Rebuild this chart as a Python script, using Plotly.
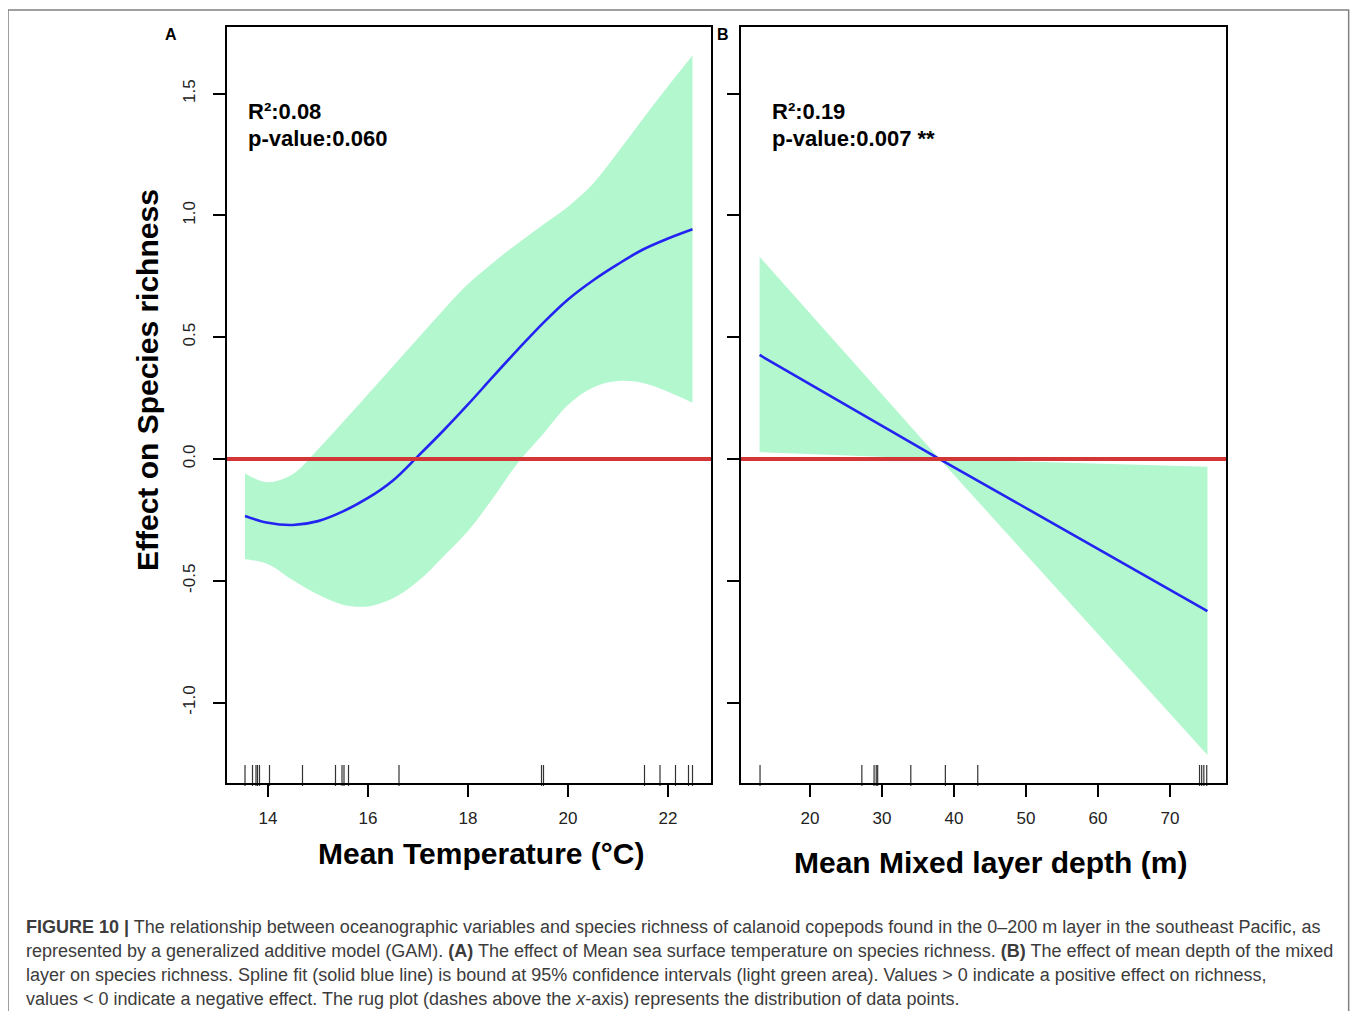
import plotly.graph_objects as go

# ---------------- data ----------------
temp_x = [13.54, 14.0, 14.5, 15.0, 15.5, 16.0, 16.5, 17.0, 17.5, 18.0, 18.5, 19.0,
          19.5, 20.0, 20.5, 21.0, 21.5, 22.0, 22.49]
temp_fit = [-0.234, -0.262, -0.271, -0.255, -0.215, -0.160, -0.088, 0.012, 0.115, 0.224,
            0.338, 0.450, 0.558, 0.655, 0.733, 0.800, 0.860, 0.905, 0.943]
temp_upper = [-0.060, -0.095, -0.062, 0.040, 0.152, 0.266, 0.381, 0.496, 0.610, 0.718,
              0.806, 0.886, 0.962, 1.036, 1.130, 1.260, 1.397, 1.530, 1.656]
temp_lower = [-0.410, -0.432, -0.498, -0.556, -0.598, -0.605, -0.572, -0.502, -0.402, -0.296,
              -0.160, -0.015, 0.102, 0.222, 0.294, 0.320, 0.312, 0.276, 0.231]
temp_rug = [13.54, 13.69, 13.76, 13.79, 13.83, 14.03, 14.69, 15.35, 15.48, 15.52, 15.61,
            16.62, 19.47, 19.51, 21.53, 21.84, 22.15, 22.41, 22.49]

depth_x = [13.0, 38.0, 75.2]
depth_fit = [0.427, 0.0, -0.624]
depth_upper = [0.830, 0.0, -0.032]
depth_lower = [0.028, 0.0, -1.215]
depth_rug = [13.06, 27.2, 28.9, 29.2, 29.4, 34.0, 38.8, 43.3, 74.1, 74.4, 74.7, 75.1]

temp_ticks = [14, 16, 18, 20, 22]
depth_ticks = [20, 30, 40, 50, 60, 70]
y_ticks = [-1.0, -0.5, 0.0, 0.5, 1.0, 1.5]
y_ticklabels = ["-1.0", "-0.5", "0.0", "0.5", "1.0", "1.5"]

stats_a = ["R²:0.08", "p-value:0.060"]
stats_b = ["R²:0.19", "p-value:0.007 **"]

caption_lines = [
    "<b>FIGURE 10 |</b> The relationship between oceanographic variables and species richness of calanoid copepods found in the 0–200 m layer in the southeast Pacific, as",
    "represented by a generalized additive model (GAM). <b>(A)</b> The effect of Mean sea surface temperature on species richness. <b>(B)</b> The effect of mean depth of the mixed",
    "layer on species richness. Spline fit (solid blue line) is bound at 95% confidence intervals (light green area). Values &gt; 0 indicate a positive effect on richness,",
    "values &lt; 0 indicate a negative effect. The rug plot (dashes above the <i>x</i>-axis) represents the distribution of data points.",
]

# ---------------- layout geometry ----------------
# the page body adds an 8 px margin on every side, so the figure is offset by 8 px
OFF = 8
W, H = 1358 - 2 * OFF, 1019 - 2 * OFF
FONT = "Liberation Sans, Arial, Helvetica, sans-serif"
def px(x):
    return (x - OFF) / W
def py(y):
    return 1 - (y - OFF) / H

XA_RANGE = [13.18, 22.86]
XB_RANGE = [10.417, 77.778]
Y_RANGE = [-1.330, 1.7734]
PLOT_TOP, PLOT_BOTTOM = 27, 783
RUG_LEN = 15  # px
units_per_px = (Y_RANGE[1] - Y_RANGE[0]) / (PLOT_BOTTOM - PLOT_TOP)
rug_y = Y_RANGE[0] + RUG_LEN / 2 * units_per_px

FILL = "#B3F7CF"
BLUE = "#2424F2"
RED = "#D33636"

fig = go.Figure()

def add_panel(xs, fit, lo, up, rug, xa, ya, shape):
    fig.add_trace(go.Scatter(x=xs, y=lo, mode="lines", line=dict(width=0, shape=shape, smoothing=1.0),
                             hoverinfo="skip", showlegend=False, xaxis=xa, yaxis=ya))
    fig.add_trace(go.Scatter(x=xs, y=up, mode="lines", line=dict(width=0, shape=shape, smoothing=1.0),
                             fill="tonexty", fillcolor=FILL, hoverinfo="skip", showlegend=False,
                             xaxis=xa, yaxis=ya))
    fig.add_trace(go.Scatter(x=xs, y=fit, mode="lines", line=dict(color=BLUE, width=2.6, shape=shape, smoothing=1.0),
                             showlegend=False, xaxis=xa, yaxis=ya))
    fig.add_trace(go.Scatter(x=rug, y=[rug_y] * len(rug), mode="markers",
                             marker=dict(symbol="line-ns", size=RUG_LEN,
                                         line=dict(color="#333333", width=1.2)),
                             showlegend=False, xaxis=xa, yaxis=ya, cliponaxis=False))

add_panel(temp_x, temp_fit, temp_lower, temp_upper, temp_rug, "x", "y", "spline")
add_panel(depth_x, depth_fit, depth_lower, depth_upper, depth_rug, "x2", "y2", "linear")

# zero reference lines
for xr, yr in [("x domain", "y"), ("x2 domain", "y2")]:
    fig.add_shape(type="line", xref=xr, yref=yr, x0=0, x1=1, y0=0, y1=0,
                  line=dict(color=RED, width=4), layer="above")

axis_common = dict(showline=True, mirror=True, linecolor="black", linewidth=1.5,
                   ticks="outside", ticklen=12, tickwidth=1.5, tickcolor="black",
                   showgrid=False, zeroline=False,
                   tickfont=dict(family=FONT, size=17, color="#222222"))

fig.update_layout(
    width=W, height=H, autosize=False,
    margin=dict(l=0, r=0, t=0, b=0),
    paper_bgcolor="white", plot_bgcolor="white",
    xaxis=dict(domain=[px(227), px(711)], range=XA_RANGE, tickvals=temp_ticks,
               anchor="y", ticklabelstandoff=7, **axis_common),
    yaxis=dict(domain=[py(PLOT_BOTTOM), py(PLOT_TOP)], range=Y_RANGE, tickvals=y_ticks,
               ticktext=y_ticklabels, tickangle=-90, anchor="x", ticklabelstandoff=11,
               **axis_common),
    xaxis2=dict(domain=[px(741), px(1226)], range=XB_RANGE, tickvals=depth_ticks,
                anchor="y2", ticklabelstandoff=7, **axis_common),
    yaxis2=dict(domain=[py(PLOT_BOTTOM), py(PLOT_TOP)], range=Y_RANGE, tickvals=y_ticks,
                showticklabels=False, anchor="x2", **axis_common),
)

ann = []
def text(x, y, t, size, bold=False, anchor="center", angle=0, color="black"):
    ann.append(dict(x=px(x), y=py(y), xref="paper", yref="paper", text=(f"<b>{t}</b>" if bold else t),
                    showarrow=False, xanchor=anchor, yanchor="middle", textangle=angle,
                    font=dict(family=FONT, size=size, color=color)))

# axis titles
text(481, 853, "Mean Temperature (°C)", 30, bold=True)
text(990, 862, "Mean Mixed layer depth (m)", 30, bold=True)
text(147, 380, "Effect on Species richness", 30, bold=True, angle=-90)
# panel letters
text(171, 35, "A", 16, bold=True)
text(723, 35, "B", 16, bold=True)
# statistics
text(246, 111, stats_a[0], 22, bold=True, anchor="left")
text(246, 138, stats_a[1], 22, bold=True, anchor="left")
text(770, 111, stats_b[0], 22, bold=True, anchor="left")
text(770, 138, stats_b[1], 22, bold=True, anchor="left")
# caption
for i, line in enumerate(caption_lines):
    text(24, 927 + 24 * i, line, 18, anchor="left", color="#3c3c3c")

fig.update_layout(annotations=ann)

# outer frame (right edge limited to the drawable area)
fig.add_shape(type="rect", xref="paper", yref="paper", x0=px(8), x1=0.999,
              y0=py(1040), y1=py(10), line=dict(color="#808080", width=1.5), layer="below")

fig.write_html("out.html", config={"displayModeBar": False})
